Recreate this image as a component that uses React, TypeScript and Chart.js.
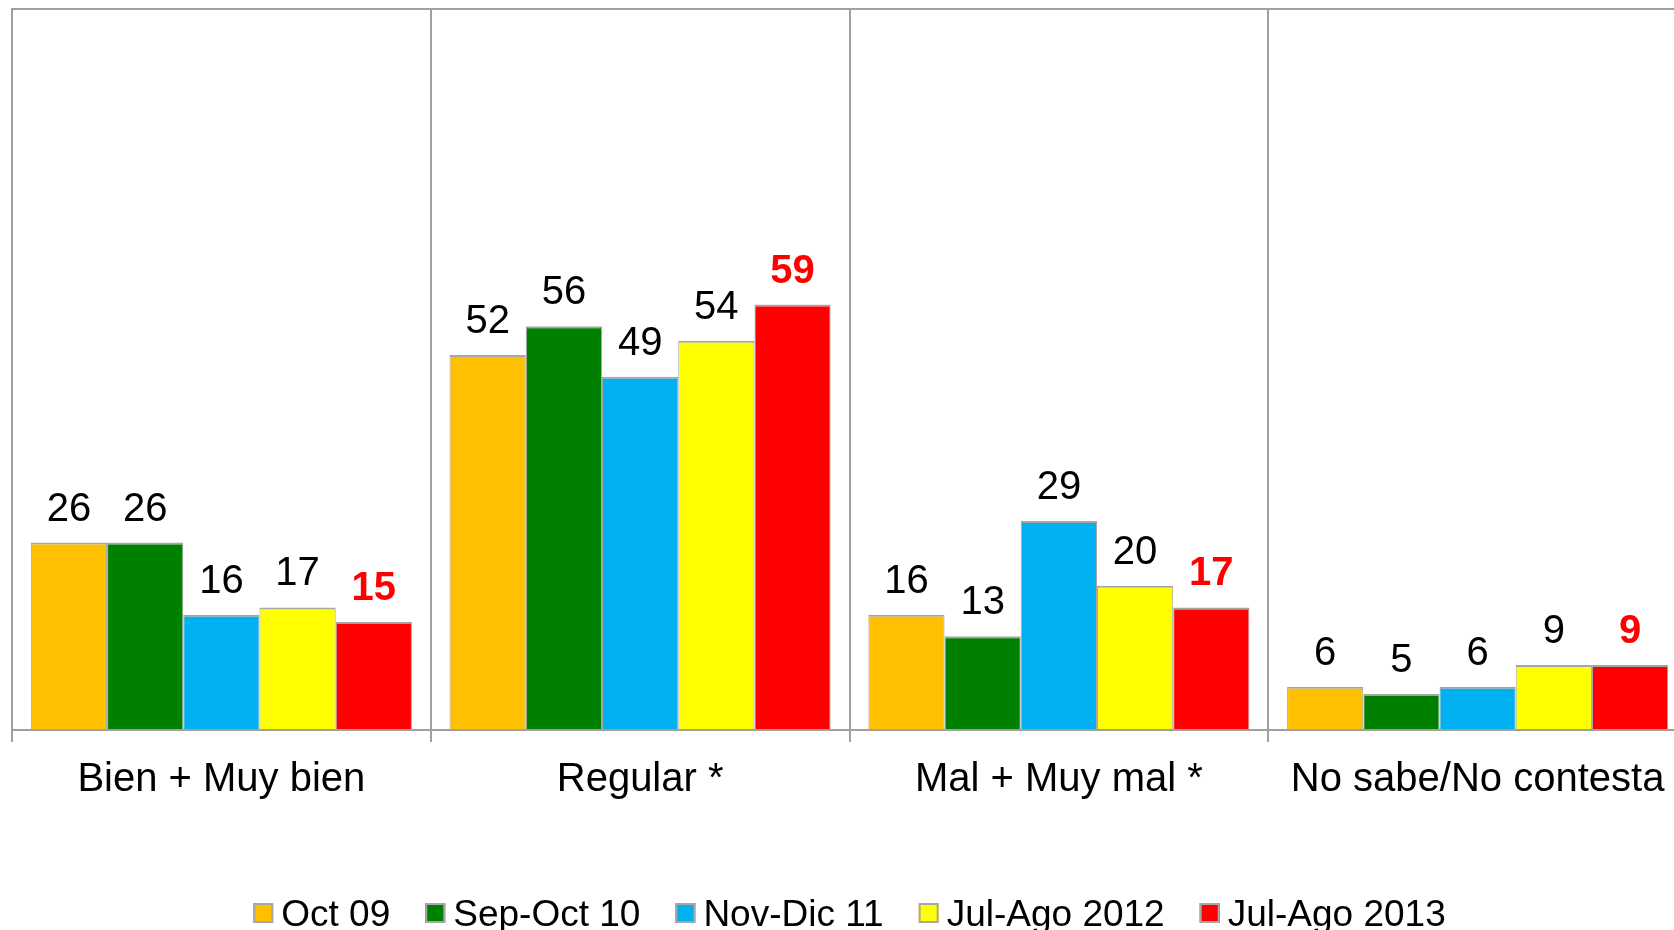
import React, { useEffect, useRef } from 'react';
import { Chart, registerables } from 'chart.js';

Chart.register(...registerables);

const categories = ['Bien + Muy bien', 'Regular *', 'Mal + Muy mal *', 'No sabe/No contesta'];
const seriesNames = ['Oct 09', 'Sep-Oct 10', 'Nov-Dic 11', 'Jul-Ago 2012', 'Jul-Ago 2013'];
const oct09 = [26, 52, 16, 6];
const sepOct10 = [26, 56, 13, 5];
const novDic11 = [16, 49, 29, 6];
const julAgo2012 = [17, 54, 20, 9];
const julAgo2013 = [15, 59, 17, 9];
const seriesColors = ['#FFC000', '#008000', '#00B0F0', '#FFFF00', '#FF0000'];
const yMin = 0;
const yMax = 100;

const FONT = '"Liberation Sans", Arial, Helvetica, sans-serif';
const GRAY = '#A0A0A0';
const BAR_BORDER = '#A6A6A6';

const dataLabelsPlugin = {
  id: 'dataLabels',
  afterDatasetsDraw(chart: any) {
    const ctx = chart.ctx;
    ctx.save();
    ctx.textAlign = 'center';
    ctx.textBaseline = 'alphabetic';
    const last = chart.data.datasets.length - 1;
    chart.data.datasets.forEach((ds: any, di: number) => {
      const meta = chart.getDatasetMeta(di);
      const highlight = di === last;
      ctx.font = (highlight ? 'bold ' : '') + '40px ' + FONT;
      ctx.fillStyle = highlight ? '#FF0000' : '#000000';
      meta.data.forEach((bar: any, i: number) => {
        ctx.fillText(String(ds.data[i]), bar.x, bar.y - 22);
      });
    });
    ctx.restore();
  },
};

const customLegendPlugin = {
  id: 'customLegend',
  afterDraw(chart: any) {
    const ctx = chart.ctx;
    const area = chart.chartArea;
    ctx.save();
    ctx.font = '37px ' + FONT;
    ctx.textBaseline = 'alphabetic';
    ctx.textAlign = 'left';
    const box = 20;
    const boxGap = 8;
    const itemGap = 35;
    const items = chart.data.datasets.map((ds: any) => ({
      label: ds.label,
      color: ds.backgroundColor,
      w: box + boxGap + ctx.measureText(ds.label).width,
    }));
    const total = items.reduce((s: number, it: any) => s + it.w, 0) + itemGap * (items.length - 1);
    let x = (area.left + area.right) / 2 - total / 2;
    const boxTop = 903;
    const baseline = 926;
    items.forEach((it: any) => {
      ctx.fillStyle = it.color;
      ctx.fillRect(x, boxTop, box, box);
      ctx.strokeStyle = BAR_BORDER;
      ctx.lineWidth = 2;
      ctx.strokeRect(x + 1, boxTop + 1, box - 2, box - 2);
      ctx.fillStyle = '#000000';
      ctx.fillText(it.label, x + box + boxGap, baseline);
      x += it.w + itemGap;
    });
    ctx.restore();
  },
};

export default function App() {
  const canvasRef = useRef<HTMLCanvasElement | null>(null);

  useEffect(() => {
    if (!canvasRef.current) return;
    const series = [oct09, sepOct10, novDic11, julAgo2012, julAgo2013];
    const chart = new Chart(canvasRef.current, {
      type: 'bar',
      data: {
        labels: categories,
        datasets: series.map((values, i) => ({
          label: seriesNames[i],
          data: values,
          backgroundColor: seriesColors[i],
          borderColor: BAR_BORDER,
          borderWidth: { top: 2, left: 1, right: 1, bottom: 0 },
          borderSkipped: false,
          barPercentage: 1,
          categoryPercentage: 0.91,
        })),
      },
      options: {
        responsive: false,
        animation: false,
        devicePixelRatio: 1,
        layout: { padding: { left: 12, top: 9, right: 1, bottom: 112 } },
        plugins: {
          legend: { display: false },
          tooltip: { enabled: false },
        },
        scales: {
          x: {
            grid: {
              display: true,
              offset: true,
              color: GRAY,
              lineWidth: 2,
              drawTicks: true,
              tickLength: 12,
            },
            border: { display: true, color: GRAY, width: 2 },
            ticks: {
              color: '#000000',
              font: { family: FONT, size: 40 },
              padding: 14,
              maxRotation: 0,
              autoSkip: false,
            },
          },
          y: {
            min: yMin,
            max: yMax,
            ticks: { display: false, stepSize: 10 },
            grid: {
              drawTicks: false,
              lineWidth: 2,
              color: (c: any) => (c.tick && c.tick.value === yMax ? GRAY : 'rgba(0,0,0,0)'),
            },
            border: { display: true, color: GRAY, width: 2 },
          },
        },
      },
      plugins: [dataLabelsPlugin, customLegendPlugin],
    });
    return () => chart.destroy();
  }, []);

  return (
    <div
      style={{
        position: 'fixed',
        left: 0,
        top: 0,
        width: 1674,
        height: 930,
        overflow: 'hidden',
        background: '#FFFFFF',
      }}
    >
      <canvas ref={canvasRef} width={1688} height={930} style={{ display: 'block' }} />
    </div>
  );
}
